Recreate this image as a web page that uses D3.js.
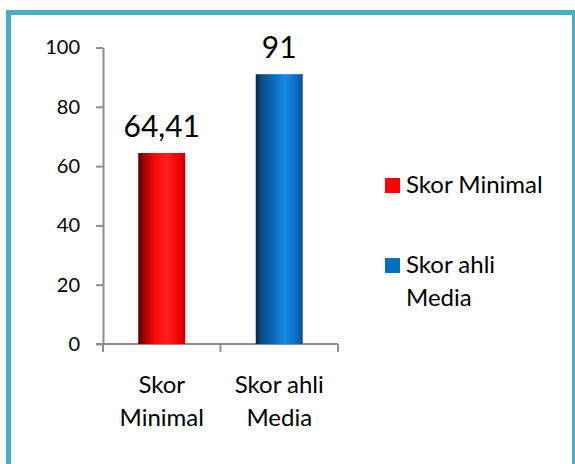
<!DOCTYPE html>
<html>
<head>
<meta charset="utf-8">
<script src="https://cdn.jsdelivr.net/npm/d3@7"></script>
<style>
  body { margin: 0; background: #fff; }
  svg { display: block; font-family: Lato, "Open Sans", sans-serif; }
</style>
</head>
<body>
<svg width="575" height="464"></svg>
<script>
// data
categories = ['Skor Minimal', 'Skor ahli Media']
values = [64.41, 91]
colors = ['#ff0000', '#0070c0']
yTicks = [0, 20, 40, 60, 80, 100]

X_LEFT = 103
X_RIGHT = 338
Y_TOP = 47.5
Y_BOTTOM = 344
BAR_FRACTION = 0.4

svg = d3.select('svg')
fmt = d3.formatLocale({decimal: ',', thousands: '.', grouping: [3], currency: ['', '']}).format('~g')

// gradients for the bars, dark on the left like the original
defs = svg.append('defs')
gradStops = [
  [[0, '#4a0000'], [0.12, '#a00000'], [0.38, '#ff0a0a'], [0.6, '#ff1f1f'], [0.88, '#f00000'], [1, '#c40000']],
  [[0, '#0b2740'], [0.12, '#0a4a86'], [0.4, '#0a6cc0'], [0.62, '#1a8ae2'], [0.88, '#0a6abd'], [1, '#08508e']]
]
gradStops.forEach(function (stops, i) {
  g = defs.append('linearGradient').attr('id', 'grad' + i)
    .attr('x1', 0).attr('x2', 1).attr('y1', 0).attr('y2', 0)
  g.selectAll('stop').data(stops).enter().append('stop')
    .attr('offset', function (d) { return d[0]; })
    .attr('stop-color', function (d) { return d[1]; })
})

// outer frame
svg.append('rect')
  .attr('x', 8.5).attr('y', 12.5)
  .attr('width', 566).attr('height', 470)
  .attr('fill', 'none')
  .attr('stroke', '#4bacc6')
  .attr('stroke-width', 5)

x = d3.scaleBand().domain(categories).range([X_LEFT, X_RIGHT]).padding(0)
y = d3.scaleLinear().domain([0, 100]).range([Y_BOTTOM, Y_TOP])

function wrap(sel, maxWidth, lineHeight) {
  sel.each(function () {
    t = d3.select(this)
    words = t.text().split(' ')
    t.text(null)
    xx = t.attr('x')
    line = []
    n = 0
    tsp = t.append('tspan').attr('x', xx).attr('dy', 0)
    words.forEach(function (w) {
      line.push(w)
      tsp.text(line.join(' '))
      if (tsp.node().getComputedTextLength() > maxWidth && line.length > 1) {
        line.pop()
        tsp.text(line.join(' '))
        line = [w]
        n++
        tsp = t.append('tspan').attr('x', xx).attr('dy', lineHeight).text(w)
      }
    })
  })
}

// y axis
yAxis = svg.append('g')
  .attr('transform', 'translate(' + X_LEFT + ',0)')
  .call(d3.axisLeft(y).tickValues(yTicks).tickSize(7).tickSizeOuter(0).tickPadding(16))
yAxis.select('.domain').attr('stroke', '#8e8e8e').attr('stroke-width', 2)
yAxis.selectAll('.tick line').attr('stroke', '#8e8e8e').attr('stroke-width', 2)
yAxis.selectAll('.tick text')
  .attr('font-family', 'Lato, sans-serif')
  .attr('font-size', 20)
  .attr('fill', '#000')

// x axis: line plus ticks at category edges
edges = [x(categories[0])].concat(categories.map(function (c) { return x(c) + x.bandwidth(); }))
svg.append('line')
  .attr('x1', X_LEFT - 7).attr('x2', X_RIGHT)
  .attr('y1', y(0)).attr('y2', y(0))
  .attr('stroke', '#8e8e8e').attr('stroke-width', 2)
svg.selectAll('.xtick').data(edges).enter().append('line')
  .attr('x1', function (d) { return d; })
  .attr('x2', function (d) { return d; })
  .attr('y1', y(0)).attr('y2', y(0) + 8)
  .attr('stroke', '#8e8e8e').attr('stroke-width', 2)

svg.selectAll('.xlabel').data(categories).enter().append('text')
  .attr('x', function (d) { return x(d) + x.bandwidth() / 2; })
  .attr('y', 393)
  .attr('text-anchor', 'middle')
  .attr('font-size', 24)
  .text(function (d) { return d; })
  .call(wrap, 110, 33)

// bars
bw = x.bandwidth() * BAR_FRACTION
svg.selectAll('.bar').data(values).enter().append('rect')
  .attr('x', function (d, i) { return x(categories[i]) + (x.bandwidth() - bw) / 2; })
  .attr('width', bw)
  .attr('y', function (d) { return y(d); })
  .attr('height', function (d) { return y(0) - y(d); })
  .attr('fill', function (d, i) { return 'url(#grad' + i + ')'; })

svg.selectAll('.vlabel').data(values).enter().append('text')
  .attr('x', function (d, i) { return x(categories[i]) + x.bandwidth() / 2; })
  .attr('y', function (d) { return y(d) - 16; })
  .attr('text-anchor', 'middle')
  .attr('font-size', 30)
  .text(function (d) { return fmt(d); })

// legend
legendY = [185, 265]
lg = svg.selectAll('.legend').data(categories).enter().append('g')
  .attr('transform', function (d, i) { return 'translate(385,' + legendY[i] + ')'; })
lg.append('rect')
  .attr('x', 0).attr('y', -7)
  .attr('width', 15).attr('height', 15)
  .attr('fill', function (d, i) { return colors[i]; })
lg.append('text')
  .attr('x', 21).attr('y', 8)
  .attr('font-size', 24)
  .text(function (d) { return d; })
  .call(wrap, 150, 33)
</script>
</body>
</html>
